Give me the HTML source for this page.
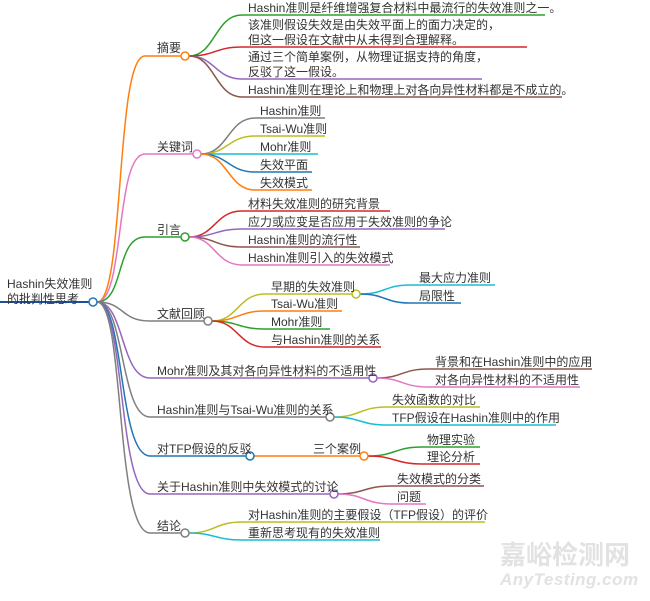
<!DOCTYPE html>
<html><head><meta charset="utf-8"><style>
body{margin:0;background:#fff;}
svg text{font-family:"Liberation Sans","Noto Sans CJK SC",sans-serif;font-size:12px;fill:#333;}
</style></head><body>
<svg width="650" height="596" viewBox="0 0 650 596" xmlns="http://www.w3.org/2000/svg">
<g fill="none" stroke-width="1.5">
<!-- root -->
<path d="M0 302 H90" stroke="#1f4e9c" stroke-width="2"/>
<!-- level1 curves -->
<path d="M97 302 C125 302 115 56 145 56 H181" stroke="#ff7f0e"/>
<path d="M97 302 C125 302 115 154 145 154 H193" stroke="#e377c2"/>
<path d="M97 302 C125 302 115 237 145 237 H181" stroke="#2ca02c"/>
<path d="M97 302 C125 302 120 321 150 321 H204" stroke="#7f7f7f"/>
<path d="M97 302 C125 302 120 378 150 378 H369" stroke="#9467bd"/>
<path d="M97 302 C125 302 120 417 150 417 H326" stroke="#7f7f7f"/>
<path d="M97 302 C125 302 118 456 150 456 H246" stroke="#1f77b4"/>
<path d="M97 302 C125 302 118 494 150 494 H330" stroke="#9467bd"/>
<path d="M97 302 C125 302 115 533 150 533 H181" stroke="#7f7f7f"/>
<!-- 摘要 -->
<path d="M189 56 C215 56 215 15 242 15 H545" stroke="#2ca02c"/>
<path d="M189 56 C215 56 215 47 242 47 H527" stroke="#d62728"/>
<path d="M189 56 C215 56 215 79 242 79 H482" stroke="#9467bd"/>
<path d="M189 56 C215 56 215 97 242 97 H562" stroke="#8c564b"/>
<!-- 关键词 -->
<path d="M201 154 C228 154 228 118 255 118 H325" stroke="#7f7f7f"/>
<path d="M201 154 C228 154 228 136 255 136 H325" stroke="#bcbd22"/>
<path d="M201 154 H318" stroke="#17becf"/>
<path d="M201 154 C228 154 228 172 255 172 H312" stroke="#1f77b4"/>
<path d="M201 154 C228 154 228 190 255 190 H312" stroke="#ff7f0e"/>
<!-- 引言 -->
<path d="M189 237 C215 237 215 211 242 211 H390" stroke="#d62728"/>
<path d="M189 237 C215 237 215 229 242 229 H445" stroke="#9467bd"/>
<path d="M189 237 C215 237 215 247 242 247 H360" stroke="#8c564b"/>
<path d="M189 237 C215 237 215 265 242 265 H390" stroke="#e377c2"/>
<!-- 文献回顾 -->
<path d="M212 321 C238 321 238 294 265 294 H352" stroke="#bcbd22"/>
<path d="M212 321 C238 321 238 311 265 311 H342" stroke="#ff7f0e"/>
<path d="M212 321 C238 321 238 329 265 329 H330" stroke="#2ca02c"/>
<path d="M212 321 C238 321 238 347 265 347 H381" stroke="#d62728"/>
<path d="M360 294 C385 294 385 285 410 285 H495" stroke="#17becf"/>
<path d="M360 294 C385 294 385 303 410 303 H461" stroke="#1f77b4"/>
<!-- Mohr -->
<path d="M377 378 C402 378 402 369 428 369 H592" stroke="#8c564b"/>
<path d="M377 378 C402 378 402 387 428 387 H580" stroke="#e377c2"/>
<!-- Hashin/TsaiWu -->
<path d="M334 417 C360 417 360 407 386 407 H480" stroke="#bcbd22"/>
<path d="M334 417 C360 417 360 425 386 425 H556" stroke="#17becf"/>
<!-- TFP -->
<path d="M254 456 H360" stroke="#ff7f0e"/>
<path d="M368 456 C395 456 395 447 422 447 H480" stroke="#2ca02c"/>
<path d="M368 456 C395 456 395 464 422 464 H480" stroke="#d62728"/>
<!-- 关于 -->
<path d="M338 494 C364 494 364 486 392 486 H484" stroke="#8c564b"/>
<path d="M338 494 C364 494 364 504 392 504 H426" stroke="#e377c2"/>
<!-- 结论 -->
<path d="M189 533 C215 533 215 522 242 522 H485" stroke="#bcbd22"/>
<path d="M189 533 C215 533 215 540 242 540 H380" stroke="#17becf"/>
</g>
<g fill="#fff" stroke-width="1.5">
<circle cx="93" cy="302" r="4" stroke="#1f77b4"/>
<circle cx="185" cy="56" r="4" stroke="#ff7f0e"/>
<circle cx="197" cy="154" r="4" stroke="#e377c2"/>
<circle cx="185" cy="237" r="4" stroke="#2ca02c"/>
<circle cx="208" cy="321" r="4" stroke="#7f7f7f"/>
<circle cx="373" cy="378" r="4" stroke="#9467bd"/>
<circle cx="330" cy="417" r="4" stroke="#7f7f7f"/>
<circle cx="250" cy="456" r="4" stroke="#1f77b4"/>
<circle cx="364" cy="456" r="4" stroke="#ff7f0e"/>
<circle cx="334" cy="494" r="4" stroke="#9467bd"/>
<circle cx="185" cy="533" r="4" stroke="#7f7f7f"/>
<circle cx="356" cy="294" r="4" stroke="#bcbd22"/>
</g>
<text x="7" y="288">Hashin失效准则</text>
<text x="7" y="303">的批判性思考</text>
<text x="157" y="52">摘要</text>
<text x="157" y="151">关键词</text>
<text x="157" y="234">引言</text>
<text x="157" y="318">文献回顾</text>
<text x="157" y="375">Mohr准则及其对各向异性材料的不适用性</text>
<text x="157" y="414">Hashin准则与Tsai-Wu准则的关系</text>
<text x="157" y="453">对TFP假设的反驳</text>
<text x="313" y="453">三个案例</text>
<text x="157" y="491">关于Hashin准则中失效模式的讨论</text>
<text x="157" y="530">结论</text>
<text x="248" y="12">Hashin准则是纤维增强复合材料中最流行的失效准则之一。</text>
<text x="248" y="29">该准则假设失效是由失效平面上的面力决定的，</text>
<text x="248" y="44">但这一假设在文献中从未得到合理解释。</text>
<text x="248" y="61">通过三个简单案例，从物理证据支持的角度，</text>
<text x="248" y="76">反驳了这一假设。</text>
<text x="248" y="94">Hashin准则在理论上和物理上对各向异性材料都是不成立的。</text>
<text x="260" y="115">Hashin准则</text>
<text x="260" y="133">Tsai-Wu准则</text>
<text x="260" y="151">Mohr准则</text>
<text x="260" y="169">失效平面</text>
<text x="260" y="187">失效模式</text>
<text x="248" y="208">材料失效准则的研究背景</text>
<text x="248" y="226">应力或应变是否应用于失效准则的争论</text>
<text x="248" y="244">Hashin准则的流行性</text>
<text x="248" y="262">Hashin准则引入的失效模式</text>
<text x="271" y="291">早期的失效准则</text>
<text x="271" y="308">Tsai-Wu准则</text>
<text x="271" y="326">Mohr准则</text>
<text x="271" y="344">与Hashin准则的关系</text>
<text x="419" y="282">最大应力准则</text>
<text x="419" y="300">局限性</text>
<text x="435" y="366">背景和在Hashin准则中的应用</text>
<text x="435" y="384">对各向异性材料的不适用性</text>
<text x="392" y="404">失效函数的对比</text>
<text x="392" y="422">TFP假设在Hashin准则中的作用</text>
<text x="427" y="444">物理实验</text>
<text x="427" y="461">理论分析</text>
<text x="397" y="483">失效模式的分类</text>
<text x="397" y="501">问题</text>
<text x="248" y="519">对Hashin准则的主要假设（TFP假设）的评价</text>
<text x="248" y="537">重新思考现有的失效准则</text>
<text x="500" y="564" style="font-size:26px;font-weight:bold;fill:#e2e2e2">嘉峪检测网</text>
<text x="500" y="585" style="font-size:17px;font-style:italic;font-weight:bold;fill:#e2e2e2;letter-spacing:0.5px">AnyTesting.com</text>
</svg>
</body></html>
